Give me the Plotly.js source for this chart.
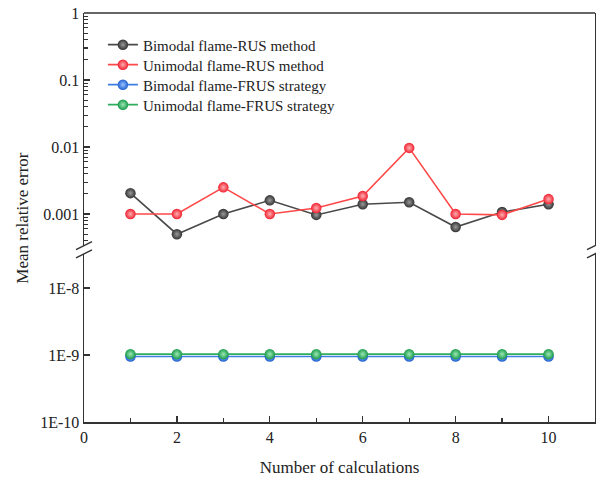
<!DOCTYPE html>
<html><head><meta charset="utf-8">
<script src="https://cdn.plot.ly/plotly-3.0.1.min.js"></script>
<style>body{margin:0;background:#fff}#chart{width:596px;height:482px}</style>
</head><body><div id="chart"></div>
<script>
const calcNo = [1, 2, 3, 4, 5, 6, 7, 8, 9, 10];
const bimodalRUS = [0.00205, 0.0005, 0.001, 0.0016, 0.00097, 0.0014, 0.0015, 0.00064, 0.00107, 0.0014];
const unimodalRUS = [0.001, 0.001, 0.0025, 0.001, 0.00123, 0.00186, 0.0097, 0.001, 0.00097, 0.00167];
const bimodalFRUS = [0.95e-9, 0.95e-9, 0.95e-9, 0.95e-9, 0.95e-9, 0.95e-9, 0.95e-9, 0.95e-9, 0.95e-9, 0.95e-9];
const unimodalFRUS = [1.03e-9, 1.03e-9, 1.03e-9, 1.03e-9, 1.03e-9, 1.03e-9, 1.03e-9, 1.03e-9, 1.03e-9, 1.03e-9];
const seriesNames = ['Bimodal flame-RUS method', 'Unimodal flame-RUS method', 'Bimodal flame-FRUS strategy', 'Unimodal flame-FRUS strategy'];
const lowTickVals = [1e-8, 1e-9, 1e-10];
const lowTickText = ['1E-8', '1E-9', '1E-10'];

const FONT = 'Liberation Serif, Times New Roman, serif';
function tr(y, name, line, mk, hi, axis, leg) {
  return {x: calcNo, y: y, name: name, yaxis: axis, legend: leg, type: 'scatter', mode: 'lines+markers',
    line: {color: line, width: 1.6},
    marker: {size: 10.5, color: mk, gradient: {type: 'radial', color: hi}, line: {width: 0}}};
}
const data = [
  tr(bimodalRUS, seriesNames[0], '#4a4a4a', '#333333', '#9a9a9a', 'y2', 'legend'),
  tr(unimodalRUS, seriesNames[1], '#ff4848', '#f02030', '#ffb0b0', 'y2', 'legend2'),
  tr(bimodalFRUS, seriesNames[2], '#3d7fe0', '#1f5fd0', '#9cc4ff', 'y', 'legend3'),
  tr(unimodalFRUS, seriesNames[3], '#2fae5e', '#1a9a4a', '#9be8b5', 'y', 'legend4')
];

const W = 511, H = 409;
const lowTop = 0.411, topBot = 0.431;
const lowRange = [-10, -7.491], topRange = [-3.473, 0];
const dx = 8 / W, dy = 4 / H;
const lc = '#333333';
function slash(x, y) {
  return {type: 'line', xref: 'paper', yref: 'paper', x0: x - dx, x1: x + dx, y0: y - dy, y1: y + dy,
    line: {color: lc, width: 1.4}};
}
const shapes = [
  {type: 'line', xref: 'paper', yref: 'paper', x0: 0, x1: 1, y0: 1, y1: 1, line: {color: lc, width: 1.5}},
  slash(0, lowTop), slash(0, topBot), slash(1, lowTop), slash(1, topBot)
];
// minor tick marks of the lower (broken) log axis — axis decoration
const mlen = 4;
for (let e = Math.floor(lowRange[0]); e < Math.ceil(lowRange[1]); e++) {
  for (let m = 2; m <= 9; m++) {
    const lv = Math.log10(m) + e;
    if (lv > lowRange[0] && lv < lowRange[1]) {
      shapes.push({type: 'line', xref: 'paper', yref: 'y', x0: 0, x1: mlen / W, y0: lv, y1: lv, line: {color: lc, width: 1.1}});
    }
  }
}

const tickFont = {family: FONT, size: 16, color: '#222'};
const axisCommon = {showline: true, linecolor: lc, linewidth: 1.5, ticks: 'inside', ticklen: 6, tickwidth: 1.3,
  tickcolor: lc, showgrid: false, zeroline: false, mirror: true, tickfont: tickFont};
function leg(yTop) {
  return {x: 0.037, y: yTop, xanchor: 'left', yanchor: 'top', bgcolor: 'rgba(0,0,0,0)',
    font: {family: FONT, size: 15, color: '#222'}};
}

const layout = {
  width: 596, height: 482,
  margin: {l: 84, r: 1, t: 13, b: 60},
  paper_bgcolor: '#fff', plot_bgcolor: '#fff',
  font: {family: FONT, color: '#222'},
  showlegend: true,
  legend: leg(0.9623), legend2: leg(0.9134), legend3: leg(0.8645), legend4: leg(0.8156),
  xaxis: Object.assign({}, axisCommon, {range: [0, 11], tickmode: 'linear', tick0: 0, dtick: 2, mirror: false, anchor: 'y',
    minor: {dtick: 1, tick0: 0, ticks: 'inside', ticklen: 4, tickcolor: lc, tickwidth: 1.2},
    title: {text: 'Number of calculations', font: {family: FONT, size: 17, color: '#222'}, standoff: 16}}),
  yaxis: Object.assign({}, axisCommon, {type: 'log', domain: [0, lowTop], range: lowRange, anchor: 'x',
    tickvals: lowTickVals, ticktext: lowTickText}),
  yaxis2: Object.assign({}, axisCommon, {type: 'log', domain: [topBot, 1], range: topRange, anchor: 'x',
    tickmode: 'linear', tick0: 0, dtick: 1,
    minor: {dtick: 'D1', ticks: 'inside', ticklen: 4, tickcolor: lc, tickwidth: 1.1}}),
  shapes: shapes,
  annotations: [{text: 'Mean relative error', xref: 'paper', yref: 'paper', x: -0.121, y: 0.5,
    xanchor: 'center', yanchor: 'middle',
    textangle: -90, showarrow: false, font: {family: FONT, size: 17, color: '#222'}}]
};
Plotly.newPlot('chart', data, layout, {displayModeBar: false, staticPlot: true});
</script></body></html>
